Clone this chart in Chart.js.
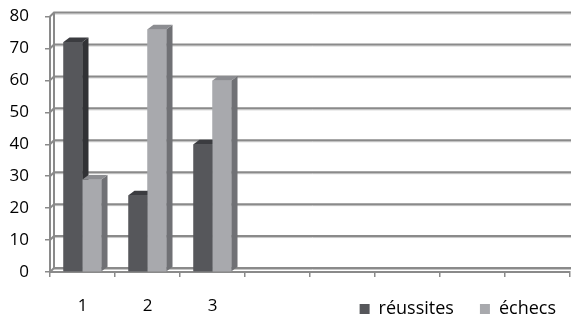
<!DOCTYPE html>
<html>
<head>
<meta charset="utf-8">
<script src="https://cdn.jsdelivr.net/npm/chart.js@4.4.1/dist/chart.umd.min.js"></script>
<style>
  html, body { margin: 0; padding: 0; background: #fff; }
  #wrap { width: 571px; height: 320px; }
</style>
</head>
<body>
<div id="wrap"><canvas id="c" width="571" height="320"></canvas></div>
<script>
// Categories (only the first three carry results) and the two series
const categories = ['1', '2', '3', '', '', '', '', ''];
const reussites = [72, 24, 40];
const echecs = [29, 76, 60];
const yMin = 0, yMax = 80, yStep = 10;

const FONT = '"Open Sans", "Liberation Sans", sans-serif';
const GRID = '#8a8a8a';
const GRID_LIGHT = '#c6c6c6';
const PLOT_TOP = 16.5;

// Perspective offsets: back wall and bar depth
const WALL = { dx: 4, dy: 4 };
const DEPTH = { dx: 6, dy: 4.5 };
const faces = [
  { front: '#56575b', top: '#3b3c40', side: '#313235' },
  { front: '#a8a9ad', top: '#8c8d91', side: '#707175' }
];

function seg(ctx, pts) {
  ctx.beginPath();
  ctx.moveTo(pts[0][0], pts[0][1]);
  for (let i = 1; i < pts.length; i++) ctx.lineTo(pts[i][0], pts[i][1]);
  ctx.stroke();
}

// Back wall gridlines with the slanted left wall
const walls = {
  id: 'walls',
  beforeDatasetsDraw(chart) {
    const { ctx, chartArea: a, scales: { y } } = chart;
    const x0 = a.left, x1 = a.left + WALL.dx, xr = chart.width;
    ctx.save();
    ctx.lineCap = 'butt';
    y.ticks.forEach(t => {
      const py = y.getPixelForValue(t.value) - WALL.dy;
      ctx.strokeStyle = GRID_LIGHT; ctx.lineWidth = 1;
      seg(ctx, [[x1, py + 1.5], [xr, py + 1.5]]);
      ctx.strokeStyle = GRID; ctx.lineWidth = 2;
      seg(ctx, [[x0, py + WALL.dy], [x1, py], [xr, py]]);
    });
    ctx.strokeStyle = GRID; ctx.lineWidth = 2;
    seg(ctx, [[x1, y.getPixelForValue(yMax) - WALL.dy], [x1, y.getPixelForValue(yMin) - WALL.dy]]);
    ctx.restore();
  }
};

// Bars redrawn series by series, each with its top and side faces
const barDepth = {
  id: 'barDepth',
  afterDatasetsDraw(chart) {
    const { ctx } = chart;
    chart.data.datasets.forEach((ds, i) => {
      const f = faces[i];
      const meta = chart.getDatasetMeta(i);
      meta.data.forEach(el => {
        el.draw(ctx);
        const { x, y, base, width } = el.getProps(['x', 'y', 'base', 'width'], true);
        const l = x - width / 2, r = x + width / 2;
        ctx.save();
        ctx.fillStyle = f.side;
        ctx.beginPath();
        ctx.moveTo(r, y); ctx.lineTo(r + DEPTH.dx, y - DEPTH.dy);
        ctx.lineTo(r + DEPTH.dx, base - DEPTH.dy); ctx.lineTo(r, base);
        ctx.closePath(); ctx.fill();
        ctx.fillStyle = f.top;
        ctx.beginPath();
        ctx.moveTo(l, y); ctx.lineTo(l + DEPTH.dx, y - DEPTH.dy);
        ctx.lineTo(r + DEPTH.dx, y - DEPTH.dy); ctx.lineTo(r, y);
        ctx.closePath(); ctx.fill();
        ctx.restore();
      });
    });
  }
};

// Plot top fixed; category labels share the bottom band with the legend
const bottomBand = {
  id: 'bottomBand',
  afterLayout(chart) {
    const a = chart.chartArea, y = chart.scales.y, x = chart.scales.x;
    a.top = PLOT_TOP; a.height = a.bottom - a.top;
    y.top = PLOT_TOP; y.height = y.bottom - y.top;
    y.configure();
    x.bottom = chart.height;
    x.height = x.bottom - x.top;
    const lg = chart.legend;
    if (lg) {
      lg.top -= 9.5; lg.bottom -= 9.5;
      lg.left += 12; lg.right += 12;
    }
  }
};

new Chart(document.getElementById('c'), {
  type: 'bar',
  data: {
    labels: categories,
    datasets: [
      { label: 'réussites', data: reussites, backgroundColor: faces[0].front, borderWidth: 0 },
      { label: 'échecs', data: echecs, backgroundColor: faces[1].front, borderWidth: 0 }
    ]
  },
  options: {
    responsive: false,
    animation: false,
    layout: { padding: { top: 11, right: 1, left: 0, bottom: -17.5 } },
    datasets: { bar: { categoryPercentage: 0.585, barPercentage: 1 } },
    scales: {
      x: {
        offset: true,
        grid: { offset: true, drawOnChartArea: false, drawTicks: true, tickLength: 5, color: GRID, lineWidth: 1.5 },
        border: { display: true, color: GRID, width: 2 },
        ticks: { color: '#000', font: { family: FONT, size: 17 }, padding: 19, maxRotation: 0, autoSkip: false },
        afterFit(s) { s.height = 11.5; }
      },
      y: {
        min: yMin, max: yMax,
        grid: { drawOnChartArea: false, drawTicks: true, tickLength: 5, color: GRID, lineWidth: 1.5 },
        border: { display: true, color: GRID, width: 2 },
        ticks: { stepSize: yStep, color: '#000', font: { family: FONT, size: 17 }, padding: 16 },
        afterFit(s) { s.width = 50; }
      }
    },
    plugins: {
      legend: {
        position: 'bottom',
        align: 'end',
        labels: {
          color: '#000',
          font: { family: FONT, size: 18 },
          boxWidth: 10, boxHeight: 10,
          padding: 26
        }
      },
      tooltip: { enabled: false }
    }
  },
  plugins: [walls, barDepth, bottomBand]
});
</script>
</body>
</html>
